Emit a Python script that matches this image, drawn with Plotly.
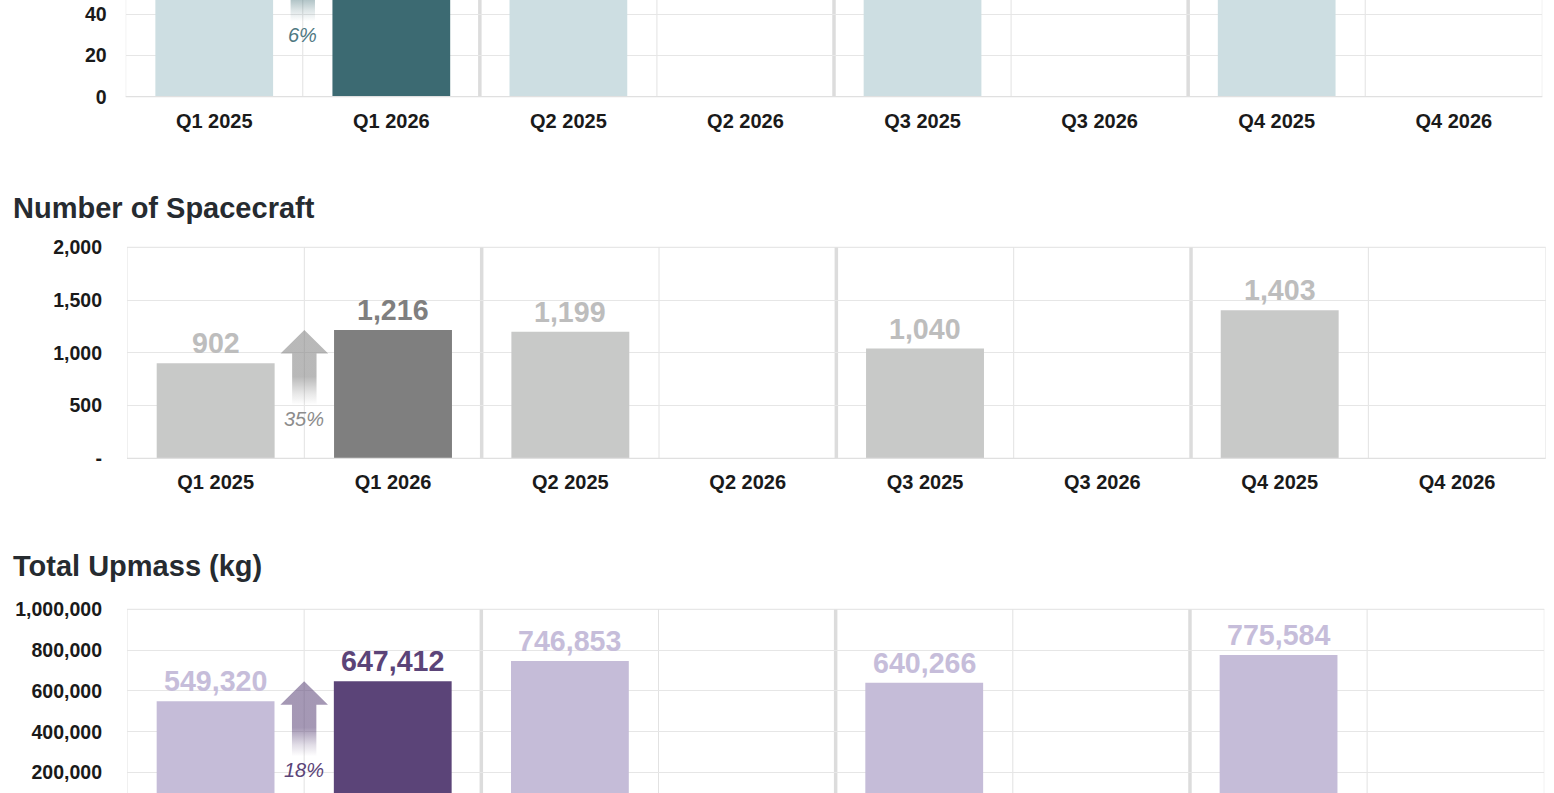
import plotly.graph_objects as go

# ---------------- data ----------------
quarters = ["Q1 2025", "Q1 2026", "Q2 2025", "Q2 2026", "Q3 2025", "Q3 2026", "Q4 2025", "Q4 2026"]
launches = [69, 73, 80, None, 85, None, 92, None]          # top panel (mostly outside the visible window)
spacecraft = [902, 1216, 1199, None, 1040, None, 1403, None]
upmass = [549320, 647412, 746853, None, 640266, None, 775584, None]

titles = ["Number of Launches", "Number of Spacecraft", "Total Upmass (kg)"]
launch_ticks = [0, 20, 40, 60, 80, 100]
launch_ticktext = ["0", "20", "40", "60", "80", "100"]
craft_ticks = [0, 500, 1000, 1500, 2000]
craft_ticktext = ["-", "500", "1,000", "1,500", "2,000"]
mass_ticks = [0, 200000, 400000, 600000, 800000, 1000000]
mass_ticktext = ["-", "200,000", "400,000", "600,000", "800,000", "1,000,000"]
current_index = 1   # Q1 2026 highlighted

# ---------------- layout / style ----------------
OFF = 0                      # page margin is removed below
W, H = 1554, 793
FONT = "Liberation Sans, Arial, Helvetica, sans-serif"

# geometry given in page pixels
panels = [
    dict(vals=launches, ticks=launch_ticks, ticktext=launch_ticktext, ymax=100,
         x0=125.7, x1=1542.3, top=-109.3, bottom=96.7, standoff=18, title_c=-150,
         light="#cddee2", dark="#3c6a72", pct="#4f7882", arrow=(60, 106, 114)),
    dict(vals=spacecraft, ticks=craft_ticks, ticktext=craft_ticktext, ymax=2000,
         x0=127.0, x1=1545.7, top=247.3, bottom=458.3, standoff=24, title_c=208,
         light="#c8c9c8", dark="#7f7f7f", pct="#8c8c8c", arrow=(127, 127, 127)),
    dict(vals=upmass, ticks=mass_ticks, ticktext=mass_ticktext, ymax=1000000,
         x0=127.0, x1=1544.3, top=609.3, bottom=813.3, standoff=24, title_c=566,
         light="#c5bcd8", dark="#5b4478", pct="#5b4478", arrow=(91, 68, 120)),
]
label_light = ["#cddee2", "#bdbdbd", "#c6bdda"]

GRID = "#e6e6e6"
SEP = "#dcdcdc"

fig = go.Figure()
layout = dict(
    width=W, height=H, margin=dict(l=0, r=0, t=0, b=0, autoexpand=False),
    paper_bgcolor="white", plot_bgcolor="white", showlegend=False,
    font=dict(family=FONT, color="#1a1a1a"),
)
annotations = []
shapes = []

for k, p in enumerate(panels):
    sfx = "" if k == 0 else str(k + 1)
    xa, ya = "x" + sfx, "y" + sfx
    top, bottom = p["top"] - OFF, p["bottom"] - OFF
    x0, x1 = p["x0"] - OFF, p["x1"] - OFF
    full_h = bottom - top
    vis_top = max(top, 0)
    vis_bot = min(bottom, H)
    upp = p["ymax"] / full_h                       # data units per pixel
    r0 = (bottom - vis_bot) * upp
    r1 = (bottom - vis_top) * upp
    xpp = 8.0 / (x1 - x0)                          # category units per pixel

    layout["xaxis" + sfx] = dict(
        domain=[x0 / W, min(x1 / W, 1)], anchor=ya, range=[-0.5, 7.5],
        tickmode="array", tickvals=list(range(8)), ticktext=quarters,
        tickfont=dict(size=20, weight="bold", color="#1a1a1a"),
        showgrid=False, zeroline=False, showline=False, ticks="",
        showticklabels=bottom <= H,
        ticklabelstandoff=10, fixedrange=True, automargin=False,
    )
    layout["yaxis" + sfx] = dict(
        domain=[1 - vis_bot / H, 1 - vis_top / H], anchor=xa, range=[r0, r1],
        tickmode="array", tickvals=p["ticks"], ticktext=p["ticktext"],
        tickfont=dict(size=19.5, weight="bold", color="#1a1a1a"),
        showgrid=True, gridcolor=GRID, gridwidth=1, zeroline=False, showline=False,
        ticks="", ticklabelstandoff=p["standoff"], ticklabeloverflow="allow",
        fixedrange=True, automargin=False,
    )

    # category boundary lines (thin) and quarter separators (thick)
    for b in range(9):
        xb = b - 0.5
        thick = b in (2, 4, 6)
        shapes.append(dict(type="line", xref=xa, yref=ya + " domain", x0=xb, x1=xb, y0=0, y1=1,
                           line=dict(color=SEP if thick else "#e2e2e2", width=3.5 if thick else 1),
                           layer="below"))
    # bottom / top border
    if bottom <= H:
        shapes.append(dict(type="line", xref=xa + " domain", yref=ya + " domain", x0=0, x1=1, y0=0, y1=0,
                           line=dict(color="#e0e0e0", width=1.2), layer="above"))
    if top >= 0:
        shapes.append(dict(type="line", xref=xa + " domain", yref=ya + " domain", x0=0, x1=1, y0=1, y1=1,
                           line=dict(color="#e2e2e2", width=1), layer="below"))

    colors = [p["dark"] if i == current_index else p["light"] for i in range(8)]
    fig.add_trace(go.Bar(x=list(range(8)), y=p["vals"], marker=dict(color=colors, line=dict(width=0)),
                         width=0.665, xaxis=xa, yaxis=ya, hoverinfo="skip"))

    # value labels (only those that fall inside the visible window)
    for i, v in enumerate(p["vals"]):
        if v is None or v > r1:
            continue
        annotations.append(dict(
            x=i, y=v, xref=xa, yref=ya, text=f"{v:,}", showarrow=False,
            yanchor="bottom", xanchor="center", yshift=2,
            font=dict(size=28.6, weight="bold",
                      color=p["dark"] if i == current_index else label_light[k]),
        ))

    # growth arrow between Q1 2025 and Q1 2026
    v0, v1 = p["vals"][0], p["vals"][1]
    xc = 0.5
    hb = v1 - 23.5 * upp
    yb = v1 - 75 * upp
    hw, sw = 23.8 * xpp, 12.2 * xpp
    ax = [xc, xc + hw, xc + sw, xc + sw, xc - sw, xc - sw, xc - hw, xc]
    ay = [v1, hb, hb, yb, yb, hb, hb, v1]
    r, g, bcol = p["arrow"]
    fig.add_trace(go.Scatter(
        x=ax, y=ay, xaxis=xa, yaxis=ya, mode="lines", line=dict(width=0),
        fill="toself", hoverinfo="skip",
        fillgradient=dict(type="vertical", colorscale=[
            [0, f"rgba({r},{g},{bcol},0)"],
            [0.15, f"rgba({r},{g},{bcol},0.18)"],
            [0.38, f"rgba({r},{g},{bcol},0.55)"],
            [1, f"rgba({r},{g},{bcol},0.55)"]]),
    ))
    pct = round((v1 / v0 - 1) * 100)
    annotations.append(dict(
        x=xc, y=v1 - 89 * upp, xref=xa, yref=ya, text=f"{pct}%", showarrow=False,
        yanchor="middle", xanchor="center",
        font=dict(size=20, style="italic", color=p["pct"]),
    ))

    # panel title (only when on the page)
    if p["title_c"] - OFF > 0:
        annotations.append(dict(
            x=(11 - OFF) / W, y=1 - (p["title_c"] - OFF) / H, xref="paper", yref="paper", text=titles[k],
            showarrow=False, xanchor="left", yanchor="middle",
            font=dict(size=29, weight="bold", color="#262b30"),
        ))

layout["annotations"] = annotations
layout["shapes"] = shapes
fig.update_layout(**layout)

fig.write_html("out.html", config={"displayModeBar": False},
               post_script="document.body.style.margin='0px';")
